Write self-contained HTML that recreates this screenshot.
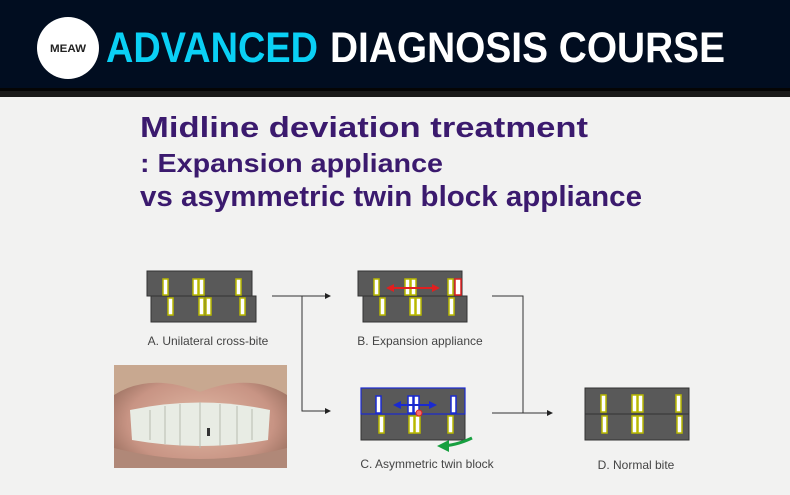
<!DOCTYPE html>
<html><head><meta charset="utf-8"><style>
html,body{margin:0;padding:0;background:#f2f2f2;}
svg{display:block;font-family:"Liberation Sans",sans-serif;}
</style></head><body>
<svg width="790" height="495" viewBox="0 0 790 495" xmlns="http://www.w3.org/2000/svg">
<rect width="790" height="495" fill="#f2f2f1"/>
<rect width="790" height="88" fill="#010d20"/>
<rect y="88" width="790" height="9" fill="#1a1a1a"/>
<rect y="88" width="790" height="3" fill="#050505"/>
<circle cx="68" cy="48" r="31" fill="#fff"/>
<text x="68" y="52" font-size="11" font-weight="bold" fill="#222" text-anchor="middle" textLength="36" lengthAdjust="spacingAndGlyphs">MEAW</text>
<text x="106" y="62" font-size="43" font-weight="bold" fill="#0ad0f5" textLength="212" lengthAdjust="spacingAndGlyphs">ADVANCED</text>
<text x="330" y="62" font-size="43" font-weight="bold" fill="#fff" textLength="395" lengthAdjust="spacingAndGlyphs">DIAGNOSIS COURSE</text>

<g fill="#3b1a6e" font-weight="bold">
<text x="140" y="137" font-size="29" textLength="448" lengthAdjust="spacingAndGlyphs">Midline deviation treatment</text>
<text x="140" y="172" font-size="26" textLength="303" lengthAdjust="spacingAndGlyphs">: Expansion appliance</text>
<text x="140" y="206" font-size="29" textLength="502" lengthAdjust="spacingAndGlyphs">vs asymmetric twin block appliance</text>
</g>

<defs>
<marker id="ah" markerWidth="6" markerHeight="6" refX="5" refY="3" orient="auto"><path d="M0,0 L6,3 L0,6z" fill="#222"/></marker>
<marker id="rh" markerWidth="4" markerHeight="4" refX="3" refY="2" orient="auto"><path d="M0,0 L4,2 L0,4z" fill="#e02020"/></marker>
<marker id="bh" markerWidth="4" markerHeight="4" refX="3" refY="2" orient="auto"><path d="M0,0 L4,2 L0,4z" fill="#1a2ad0"/></marker>
<marker id="gh" markerWidth="4" markerHeight="4" refX="3" refY="2" orient="auto"><path d="M0,0 L4,2 L0,4z" fill="#18a040"/></marker>
</defs>

<!-- A -->
<rect x="151" y="296" width="105" height="26" fill="#595959" stroke="#333"/>
<rect x="147" y="271" width="105" height="25" fill="#595959" stroke="#333"/>
<g fill="#fff" stroke="#b8b800" stroke-width="1.5">
<rect x="163" y="279" width="5" height="16"/><rect x="193" y="279" width="5" height="16"/><rect x="199" y="279" width="5" height="16"/><rect x="236" y="279" width="5" height="16"/>
<rect x="168" y="298" width="5" height="17"/><rect x="199" y="298" width="5" height="17"/><rect x="206" y="298" width="5" height="17"/><rect x="240" y="298" width="5" height="17"/>
</g>

<!-- B -->
<rect x="363" y="296" width="104" height="26" fill="#595959" stroke="#333"/>
<rect x="358" y="271" width="104" height="25" fill="#595959" stroke="#333"/>
<g fill="#fff" stroke="#b8b800" stroke-width="1.5">
<rect x="374" y="279" width="5" height="16"/><rect x="405" y="279" width="5" height="16"/><rect x="411" y="279" width="5" height="16"/><rect x="448" y="279" width="5" height="16"/>
<rect x="380" y="298" width="5" height="17"/><rect x="410" y="298" width="5" height="17"/><rect x="416" y="298" width="5" height="17"/><rect x="449" y="298" width="5" height="17"/>
</g>
<rect x="455" y="279" width="6" height="16" fill="#fff" stroke="#e02020" stroke-width="1.5"/>
<line x1="388" y1="288" x2="438" y2="288" stroke="#e02020" stroke-width="2" marker-end="url(#rh)"/>
<line x1="438" y1="288" x2="388" y2="288" stroke="#e02020" stroke-width="2" marker-end="url(#rh)"/>

<!-- C -->
<rect x="361" y="388" width="104" height="52" fill="#595959" stroke="#333"/>
<rect x="361" y="388" width="104" height="26" fill="none" stroke="#1a2ad0" stroke-width="1.2"/>
<g fill="#fff" stroke="#1a2ad0" stroke-width="1.5">
<rect x="376" y="396" width="5" height="17"/><rect x="408" y="396" width="5" height="17"/><rect x="414" y="396" width="5" height="17"/><rect x="451" y="396" width="5" height="17"/>
</g>
<g fill="#fff" stroke="#b8b800" stroke-width="1.5">
<rect x="379" y="416" width="5" height="17"/><rect x="409" y="416" width="5" height="17"/><rect x="415" y="416" width="5" height="17"/><rect x="448" y="416" width="5" height="17"/>
</g>
<line x1="395" y1="405" x2="435" y2="405" stroke="#1a2ad0" stroke-width="2" marker-end="url(#bh)"/>
<line x1="435" y1="405" x2="395" y2="405" stroke="#1a2ad0" stroke-width="2" marker-end="url(#bh)"/>
<circle cx="419" cy="413" r="3" fill="#f07070" stroke="#e02020"/>
<path d="M472,438 Q455,446 440,446" fill="none" stroke="#18a040" stroke-width="3" marker-end="url(#gh)"/>

<!-- D -->
<rect x="585" y="388" width="104" height="52" fill="#595959" stroke="#333"/>
<line x1="585" y1="414" x2="689" y2="414" stroke="#333"/>
<g fill="#fff" stroke="#b8b800" stroke-width="1.5">
<rect x="601" y="395" width="5" height="17"/><rect x="632" y="395" width="5" height="17"/><rect x="638" y="395" width="5" height="17"/><rect x="676" y="395" width="5" height="17"/>
<rect x="602" y="416" width="5" height="17"/><rect x="632" y="416" width="5" height="17"/><rect x="638" y="416" width="5" height="17"/><rect x="677" y="416" width="5" height="17"/>
</g>

<!-- connectors -->
<g stroke="#333" stroke-width="1" fill="none">
<line x1="272" y1="296" x2="330" y2="296" marker-end="url(#ah)"/>
<polyline points="302,296 302,411 330,411" marker-end="url(#ah)"/>
<polyline points="492,296 523,296 523,413"/>
<line x1="492" y1="413" x2="552" y2="413" marker-end="url(#ah)"/>
</g>

<g font-size="12" fill="#444" text-anchor="middle">
<text x="208" y="345">A. Unilateral cross-bite</text>
<text x="420" y="345">B. Expansion appliance</text>
<text x="427" y="468">C. Asymmetric twin block</text>
<text x="636" y="469">D. Normal bite</text>
</g>

<!-- photo -->
<defs>
<radialGradient id="mouth" cx="0.5" cy="0.55" r="0.6">
<stop offset="0" stop-color="#e0b8a4"/><stop offset="0.7" stop-color="#c89484"/><stop offset="1" stop-color="#9a7060"/>
</radialGradient>
</defs>
<rect x="114" y="365" width="173" height="103" fill="url(#mouth)"/>
<path d="M114,365 H287 V395 Q250,372 200,392 Q150,372 114,395z" fill="#c8a890"/>
<path d="M114,468 H287 V448 Q200,470 114,448z" fill="#b08878"/>
<path d="M130,410 Q200,395 270,410 L268,440 Q200,452 132,440z" fill="#e8ece4"/>
<g stroke="#b8bcb0" stroke-width="1">
<line x1="150" y1="410" x2="150" y2="440"/><line x1="165" y1="406" x2="165" y2="444"/><line x1="180" y1="404" x2="180" y2="446"/><line x1="200" y1="402" x2="200" y2="448"/><line x1="220" y1="404" x2="220" y2="446"/><line x1="237" y1="406" x2="237" y2="444"/><line x1="252" y1="409" x2="252" y2="440"/>
</g>
<rect x="207" y="428" width="3" height="8" fill="#333"/>
</svg>
</body></html>
